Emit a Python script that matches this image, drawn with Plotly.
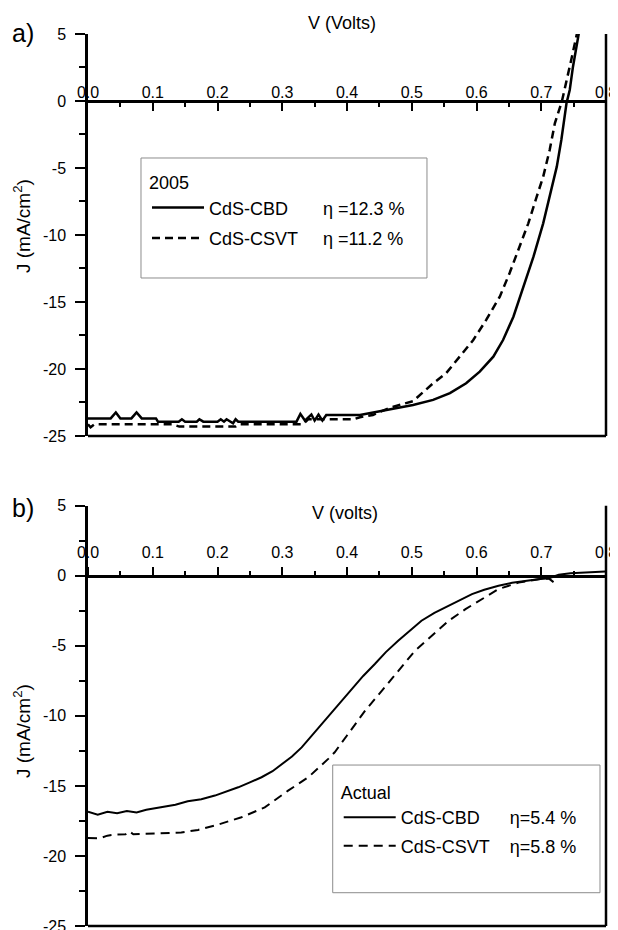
import plotly.graph_objects as go

# ---- DATA ----------------------------------------------------------------
# a) 2005 cells, J-V curves (V in volts, J in mA/cm2)
v_cbd_2005 = [0.000, 0.035, 0.043, 0.050, 0.067, 0.075, 0.083, 0.105, 0.108, 0.140, 0.145, 0.150,
              0.168, 0.172, 0.178, 0.200, 0.205, 0.210, 0.214, 0.220, 0.224, 0.228, 0.232, 0.322,
              0.328, 0.335, 0.345, 0.350, 0.356, 0.362, 0.368, 0.420, 0.445, 0.476, 0.502, 0.533,
              0.559, 0.584, 0.605, 0.626, 0.641, 0.657, 0.672, 0.688, 0.703, 0.716, 0.724, 0.731,
              0.739, 0.744, 0.749, 0.758]
j_cbd_2005 = [-23.69, -23.69, -23.25, -23.69, -23.69, -23.25, -23.69, -23.69, -23.93, -23.93, -23.75, -23.93,
              -23.93, -23.75, -23.93, -23.93, -23.75, -23.93, -23.75, -23.93, -24.05, -23.75, -23.93, -23.93,
              -23.35, -23.85, -23.40, -23.85, -23.40, -23.85, -23.43, -23.43, -23.19, -22.93, -22.69, -22.31,
              -21.80, -21.07, -20.20, -19.08, -17.84, -16.10, -13.86, -11.62, -9.13, -6.64, -4.90, -2.91,
              -0.17, 0.82, 2.56, 5.05]

v_csvt_2005 = [0.000, 0.004, 0.010, 0.130, 0.141, 0.228, 0.234, 0.332, 0.340, 0.410, 0.420, 0.440,
               0.466, 0.502, 0.533, 0.553, 0.574, 0.595, 0.615, 0.636, 0.651, 0.667, 0.680, 0.693,
               0.703, 0.713, 0.721, 0.732, 0.740, 0.746, 0.755]
j_csvt_2005 = [-24.13, -24.35, -24.13, -24.13, -24.30, -24.30, -24.13, -24.13, -23.76, -23.76, -23.60, -23.43,
               -22.90, -22.40, -21.07, -20.32, -19.08, -17.84, -16.34, -14.60, -12.86, -10.87, -9.13, -7.14,
               -5.65, -3.66, -1.67, 0.00, 1.60, 3.00, 5.00]

# b) actual cells
v_cbd_now = [0.000, 0.015, 0.030, 0.045, 0.060, 0.075, 0.090, 0.118, 0.135, 0.154, 0.175, 0.196,
             0.215, 0.232, 0.250, 0.268, 0.285, 0.299, 0.315, 0.330, 0.345, 0.361, 0.376, 0.392,
             0.407, 0.425, 0.443, 0.460, 0.479, 0.497, 0.515, 0.535, 0.557, 0.575, 0.593, 0.612,
             0.634, 0.655, 0.675, 0.695, 0.712, 0.727, 0.745, 0.763, 0.780, 0.799]
j_cbd_now = [-16.85, -17.05, -16.85, -16.95, -16.80, -16.90, -16.70, -16.45, -16.35, -16.10, -15.95, -15.69,
             -15.40, -15.10, -14.75, -14.38, -13.95, -13.43, -12.90, -12.25, -11.45, -10.58, -9.75, -8.92,
             -8.08, -7.15, -6.30, -5.45, -4.64, -3.90, -3.21, -2.65, -2.14, -1.70, -1.31, -1.00,
             -0.71, -0.50, -0.36, -0.25, -0.17, 0.07, 0.18, 0.24, 0.27, 0.31]

v_csvt_now = [0.000, 0.017, 0.030, 0.041, 0.058, 0.064, 0.070, 0.092, 0.144, 0.170, 0.196, 0.237,
              0.273, 0.309, 0.340, 0.371, 0.381, 0.400, 0.428, 0.454, 0.479, 0.505, 0.531, 0.557,
              0.583, 0.608, 0.634, 0.665, 0.696, 0.712, 0.719]
j_csvt_now = [-18.72, -18.75, -18.55, -18.48, -18.45, -18.25, -18.45, -18.40, -18.33, -18.14, -17.83, -17.24,
              -16.53, -15.34, -14.39, -13.07, -12.60, -11.40, -9.63, -8.20, -6.78, -5.35, -4.28, -3.21,
              -2.38, -1.67, -0.95, -0.48, -0.24, -0.20, -0.45]

# axis ticks
j_ticks = [5, 0, -5, -10, -15, -20, -25]
j_tick_labels = ["5", "0", "-5", "-10", "-15", "-20", "-25"]

# legend texts (non-breaking spaces line up the efficiencies)
names_2005 = ["CdS-CBD" + "\u00a0" * 7 + "η =12.3 %", "CdS-CSVT" + "\u00a0" * 5 + "η =11.2 %"]
names_now = ["CdS-CBD" + "\u00a0" * 6 + "η=5.4 %", "CdS-CSVT" + "\u00a0" * 4 + "η=5.8 %"]

# ---- FIGURE --------------------------------------------------------------
# page body keeps its 8px default margin, so the plot is laid out 8px up/left
FONT = "Liberation Sans, Arial, sans-serif"
J_RANGE = [-25, 5]
dom_a = [0.5338, 0.9717]
dom_b = [0.0, 0.4578]


def zero_pos(dom):
    #paper position of J=0 inside a y domain
    return dom[0] + (0 - J_RANGE[0]) / (J_RANGE[1] - J_RANGE[0]) * (dom[1] - dom[0])


fig = go.Figure()
fig.add_trace(go.Scatter(x=v_cbd_2005, y=j_cbd_2005, mode="lines", name=names_2005[0], legendgroup="a1",
                         line=dict(color="black", width=2.5), xaxis="x", yaxis="y", legend="legend"))
fig.add_trace(go.Scatter(x=v_csvt_2005, y=j_csvt_2005, mode="lines", name=names_2005[1], legendgroup="a2",
                         line=dict(color="black", width=2.5, dash="8px,5px"), xaxis="x", yaxis="y", legend="legend"))
fig.add_trace(go.Scatter(x=v_cbd_now, y=j_cbd_now, mode="lines", name=names_now[0], legendgroup="b1",
                         line=dict(color="black", width=2), xaxis="x2", yaxis="y2", legend="legend2"))
fig.add_trace(go.Scatter(x=v_csvt_now, y=j_csvt_now, mode="lines", name=names_now[1], legendgroup="b2",
                         line=dict(color="black", width=2, dash="9px,6px"), xaxis="x2", yaxis="y2", legend="legend2"))

tick_font = dict(family=FONT, size=16, color="black")


def v_axis(dom, ticks, ticklen, standoff):
    return dict(anchor="free", position=zero_pos(dom), side="top", domain=[0, 1], range=[0, 0.8],
                tick0=0, dtick=0.1, tickformat=".1f", ticks=ticks, ticklen=ticklen, tickwidth=2,
                tickcolor="black", minor=dict(ticks=ticks, ticklen=4, tickwidth=2, dtick=0.05, tickcolor="black"),
                showline=True, linewidth=2.5, linecolor="black", showgrid=False, zeroline=False,
                tickfont=tick_font, ticklabelstandoff=standoff, automargin=False)


def j_axis(dom, anchor):
    return dict(domain=dom, anchor=anchor, range=J_RANGE, tickmode="array", tickvals=j_ticks,
                ticktext=j_tick_labels, ticks="outside", ticklen=10, tickwidth=2, tickcolor="black",
                minor=dict(tickmode="linear", tick0=-25, dtick=2.5, ticks="outside", ticklen=6, tickwidth=2,
                           tickcolor="black"),
                showline=True, linewidth=2.5, linecolor="black", showgrid=False, zeroline=False,
                tickfont=tick_font, ticklabelstandoff=6, automargin=False)


def label(text, x, y, size, angle=0):
    return dict(text=text, xref="paper", yref="paper", x=x, y=y, xanchor="center", yanchor="middle",
                showarrow=False, textangle=angle, font=dict(family=FONT, size=size, color="black"))


legend_font = dict(family=FONT, size=18, color="black")
frame = dict(color="black", width=2.5)
box = dict(color="#8c8c8c", width=1)

fig.update_layout(
    template="none",
    width=610, height=930,
    margin=dict(l=80, r=12, t=0, b=12),
    paper_bgcolor="white", plot_bgcolor="white",
    font=dict(family=FONT, color="black"),
    xaxis=v_axis(dom_a, "inside", 8, -4),
    yaxis=j_axis(dom_a, "x"),
    xaxis2=v_axis(dom_b, "outside", 8, 3),
    yaxis2=j_axis(dom_b, "x2"),
    legend=dict(x=0.1139, y=0.8279, xanchor="left", yanchor="top", bgcolor="rgba(0,0,0,0)", borderwidth=0,
                font=legend_font, title=dict(text="2005", font=legend_font), itemwidth=52,
                tracegroupgap=4),
    legend2=dict(x=0.484, y=0.1637, xanchor="left", yanchor="top", bgcolor="rgba(0,0,0,0)", borderwidth=0,
                 font=legend_font, title=dict(text="Actual", font=legend_font), itemwidth=52,
                 tracegroupgap=2),
    shapes=[
        # bottom and right frame lines of each panel
        dict(type="line", xref="x domain", yref="y domain", x0=0, x1=1, y0=0, y1=0, line=frame),
        dict(type="line", xref="x domain", yref="y domain", x0=1, x1=1, y0=0, y1=1, line=frame),
        dict(type="line", xref="x2 domain", yref="y2 domain", x0=0, x1=1, y0=0, y1=0, line=frame),
        dict(type="line", xref="x2 domain", yref="y2 domain", x0=1, x1=1, y0=0, y1=1, line=frame),
        # legend boxes
        dict(type="rect", xref="x domain", yref="y domain", x0=0.1023, x1=0.6544, y0=0.393, y1=0.6915, line=box),
        dict(type="rect", xref="x2 domain", yref="y2 domain", x0=0.4724, x1=0.9884, y0=0.0792, y1=0.383, line=box),
    ],
    annotations=[
        label("a)", -0.1255, 0.9728, 25),
        label("b)", -0.1255, 0.4553, 25),
        label("V (Volts)", 0.4903, 0.9837, 18),
        label("V (volts)", 0.4961, 0.4499, 18),
        label("J (mA/cm<sup>2</sup>)", -0.1274, 0.7625, 19, -90),
        label("J (mA/cm<sup>2</sup>)", -0.1274, 0.2124, 19, -90),
    ],
)

fig.write_html("out.html")
